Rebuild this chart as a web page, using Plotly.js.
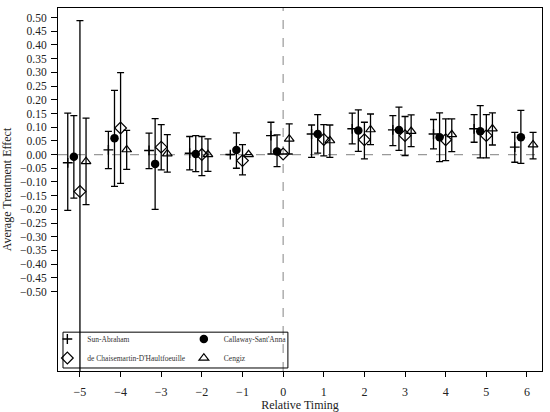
<!DOCTYPE html>
<html>
<head>
<meta charset="utf-8">
<script src="https://cdn.plot.ly/plotly-3.0.1.min.js"></script>
<style>html,body{margin:0;padding:0;background:#fff;}#chart{width:550px;height:412px;}</style>
</head>
<body>
<div id="chart"></div>
<script>
// Relative timing periods
const periods = [-5, -4, -3, -2, -1, 0, 1, 2, 3, 4, 5, 6];
const periodsDCDH = [-5, -4, -3, -2, -1, 0, 1, 2, 3, 4, 5];

// Sun-Abraham
const saEst = [-0.030, 0.017, 0.015, 0.005, 0.000, 0.069, 0.075, 0.094, 0.090, 0.075, 0.094, 0.027];
const saLo  = [-0.204, -0.051, -0.051, -0.056, 0.000, 0.002, -0.010, 0.039, 0.033, 0.021, 0.045, -0.028];
const saHi  = [0.151, 0.085, 0.078, 0.066, 0.000, 0.118, 0.108, 0.151, 0.142, 0.128, 0.146, 0.081];

// Callaway-Sant'Anna
const csEst = [-0.008, 0.060, -0.034, 0.002, 0.017, 0.011, 0.075, 0.088, 0.090, 0.063, 0.085, 0.063];
const csLo  = [-0.159, -0.116, -0.200, -0.062, -0.050, -0.044, 0.005, 0.012, 0.015, -0.026, -0.012, -0.032];
const csHi  = [0.142, 0.234, 0.131, 0.069, 0.079, 0.072, 0.146, 0.163, 0.173, 0.152, 0.179, 0.161];

// de Chaisemartin-D'Haultfoeuille
const dcEst = [-0.135, 0.097, 0.027, 0.000, -0.022, 0.002, 0.055, 0.054, 0.069, 0.054, 0.069];
const dcLo  = [-0.850, -0.105, -0.056, -0.077, -0.074, 0.002, -0.005, -0.016, -0.004, -0.022, -0.012];
const dcHi  = [0.489, 0.299, 0.109, 0.066, 0.036, 0.002, 0.109, 0.118, 0.139, 0.130, 0.146];

// Cengiz
const ceEst = [-0.025, 0.018, 0.003, 0.000, 0.000, 0.057, 0.051, 0.091, 0.085, 0.073, 0.094, 0.036];
const ceLo  = [-0.183, -0.054, -0.064, -0.061, 0.000, 0.002, -0.010, 0.036, 0.029, 0.011, 0.035, -0.016];
const ceHi  = [0.133, 0.088, 0.073, 0.057, 0.000, 0.112, 0.108, 0.148, 0.145, 0.130, 0.152, 0.081];

// Horizontal offsets of each estimator around the period
const offsets = {sa: -0.30, cs: -0.15, dc: 0.0, ce: 0.15};

// Tick labels
const xTickVals = [-5, -4, -3, -2, -1, 0, 1, 2, 3, 4, 5, 6];
const yTickVals = [0.50, 0.45, 0.40, 0.35, 0.30, 0.25, 0.20, 0.15, 0.10, 0.05, 0.00,
                   -0.05, -0.10, -0.15, -0.20, -0.25, -0.30, -0.35, -0.40, -0.45, -0.50];
const refValue = 0;
const refPeriod = 0;

const FONT = "'Liberation Serif', 'Times New Roman', serif";

function mk(name, xs, off, est, lo, hi, marker, legend) {
  return {
    type: 'scatter', mode: 'markers', name: name, legend: legend,
    x: xs.map(v => v + off), y: est,
    error_y: {
      type: 'data', symmetric: false,
      array: hi.map((h, i) => h - est[i]),
      arrayminus: lo.map((l, i) => est[i] - l),
      color: '#000', thickness: 1.3, width: 3.5
    },
    marker: marker,
    hoverinfo: 'skip'
  };
}

const traces = [
  mk('Sun-Abraham', periods, offsets.sa, saEst, saLo, saHi,
     {symbol: 'cross-thin-open', size: 7, color: '#000', line: {color: '#000', width: 1.4}}, 'legend'),
  mk('de Chaisemartin-D\'Haultfoeuille', periodsDCDH, offsets.dc, dcEst, dcLo, dcHi,
     {symbol: 'diamond-open', size: 9, color: '#000', line: {color: '#000', width: 1.2}}, 'legend'),
  mk('Callaway-Sant\'Anna', periods, offsets.cs, csEst, csLo, csHi,
     {symbol: 'circle', size: 8.5, color: '#000', line: {color: '#000', width: 0}}, 'legend2'),
  mk('Cengiz', periods, offsets.ce, ceEst, ceLo, ceHi,
     {symbol: 'triangle-up-open', size: 8.5, color: '#000', line: {color: '#000', width: 1.2}}, 'legend2')
];

const legendCommon = {
  orientation: 'v', bgcolor: 'rgba(0,0,0,0)', borderwidth: 0,
  font: {family: FONT, size: 7.5, color: '#333'},
  yanchor: 'middle', xanchor: 'left', y: 0.062, itemwidth: 30, tracegroupgap: 0
};

const layout = {
  width: 550, height: 412,
  margin: {l: 58, r: 8, t: 8, b: 41, autoexpand: false},
  paper_bgcolor: '#fff', plot_bgcolor: '#fff',
  font: {family: FONT, color: '#222'},
  showlegend: true,
  legend: Object.assign({}, legendCommon, {x: -0.022}),
  legend2: Object.assign({}, legendCommon, {x: 0.26}),
  xaxis: {
    range: [-5.54, 6.37], tickvals: xTickVals,
    ticks: 'outside', ticklen: 5, tickcolor: '#000', tickwidth: 1,
    showline: true, mirror: true, linecolor: '#000', linewidth: 1,
    showgrid: false, zeroline: false,
    tickfont: {family: FONT, size: 12, color: '#222'},
    ticklabelstandoff: 5,
    title: {text: 'Relative Timing', font: {family: FONT, size: 12, color: '#222'}, standoff: 1}
  },
  yaxis: {
    range: [-0.79, 0.535], tickvals: yTickVals, tickformat: '.2f',
    ticks: 'outside', ticklen: 6, tickcolor: '#000', tickwidth: 1,
    showline: true, mirror: true, linecolor: '#000', linewidth: 1,
    showgrid: false, zeroline: false,
    tickfont: {family: FONT, size: 11.5, color: '#222'},
    ticklabelstandoff: 2,
    title: {text: 'Average Treatment Effect', font: {family: FONT, size: 12, color: '#222'}, standoff: 6}
  },
  shapes: [
    {type: 'line', xref: 'paper', x0: 0, x1: 1, yref: 'y', y0: refValue, y1: refValue,
     line: {color: '#999', width: 1.2, dash: 'dash'}, layer: 'below'},
    {type: 'line', xref: 'x', x0: refPeriod, x1: refPeriod, yref: 'paper', y0: 0, y1: 1,
     line: {color: '#999', width: 1.2, dash: 'dash'}, layer: 'below'},
    {type: 'rect', xref: 'paper', yref: 'paper', x0: 0.0103, x1: 0.475, y0: 0.0083, y1: 0.107,
     line: {color: '#000', width: 1}, fillcolor: 'rgba(0,0,0,0)', layer: 'above'}
  ]
};

Plotly.newPlot('chart', traces, layout, {displayModeBar: false, staticPlot: true});
</script>
</body>
</html>
